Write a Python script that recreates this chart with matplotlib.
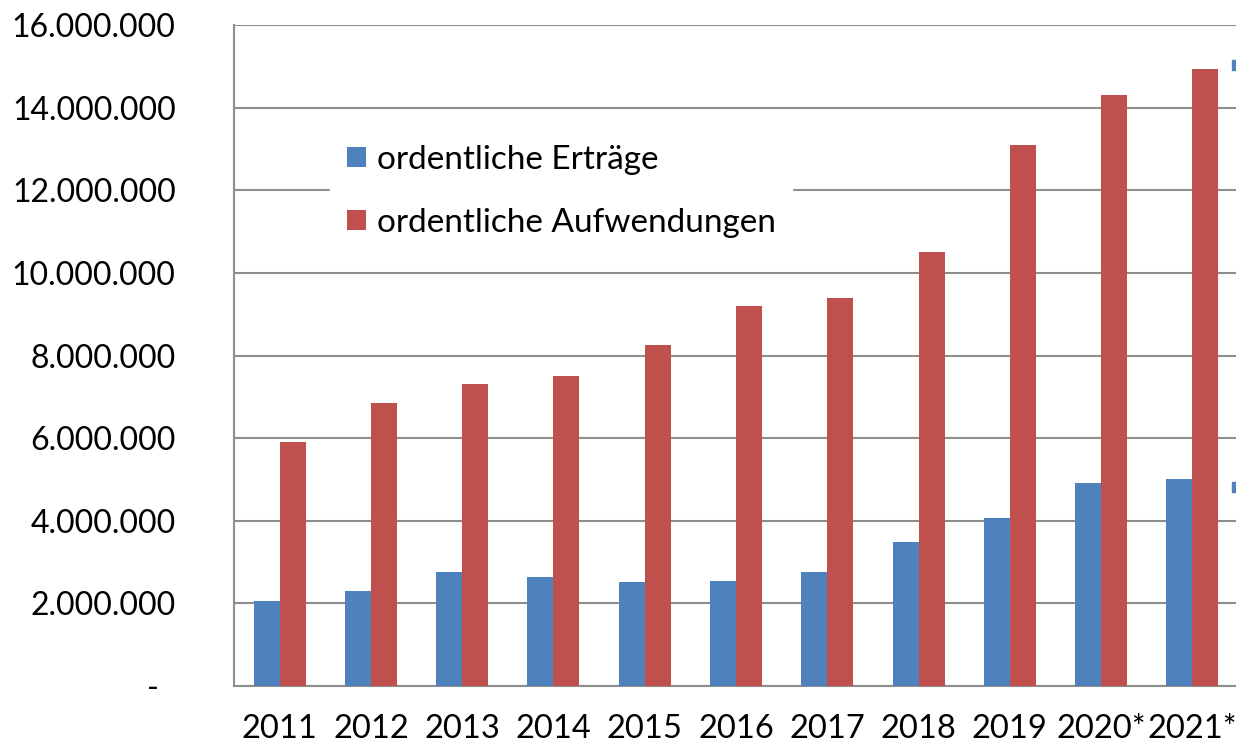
import matplotlib
matplotlib.use("Agg")
import matplotlib.pyplot as plt
import numpy as np
from matplotlib.patches import Rectangle

years = ["2011", "2012", "2013", "2014", "2015", "2016", "2017", "2018", "2019", "2020*", "2021*"]
ertraege = [2060000, 2300000, 2760000, 2640000, 2520000, 2540000, 2760000, 3490000, 4070000, 4920000, 5010000]
aufwendungen = [5910000, 6850000, 7310000, 7510000, 8260000, 9200000, 9390000, 10510000, 13100000, 14310000, 14940000]
series_names = ["ordentliche Erträge", "ordentliche Aufwendungen"]
yticks = [0, 2000000, 4000000, 6000000, 8000000, 10000000, 12000000, 14000000, 16000000]

blue = "#4F81BD"
red = "#C0504D"
grid_c = "#8E8E8E"

plt.rcParams['font.family'] = ['Lato', 'DejaVu Sans']

fig = plt.figure(figsize=(12.36, 7.45), dpi=100)
ax = fig.add_axes([234/1236, 1-686/745, 1004/1236, (686-25)/745])

x = np.arange(len(years))
w = 0.285
ax.bar(x - w/2, ertraege, width=w, color=blue, label=series_names[0], zorder=3)
ax.bar(x + w/2, aufwendungen, width=w, color=red, label=series_names[1], zorder=3)

ax.set_xlim(-0.5, len(years) - 0.5)
ax.set_ylim(0, 16000000)
ax.set_yticks(yticks)

def fmt(v):
    if v == 0:
        return "-  "
    return f"{int(v):,}".replace(",", ".")

ax.set_yticklabels([fmt(v) for v in yticks])
ax.set_xticks(x)
ax.set_xticklabels(years)
ax.tick_params(axis='y', length=0, pad=42, labelsize=23, colors='black')
ax.tick_params(axis='x', length=0, pad=20, labelsize=23.5, colors='black')

ax.grid(axis='y', color=grid_c, linewidth=1.5, zorder=1)
ax.set_axisbelow(True)
for s in ['top', 'right']:
    ax.spines[s].set_visible(False)
ax.spines['left'].set_color(grid_c)
ax.spines['left'].set_linewidth(1.5)
ax.spines['bottom'].set_color(grid_c)
ax.spines['bottom'].set_linewidth(1.5)

leg = ax.legend(loc='upper left', bbox_to_anchor=((330-234)/1004, (686-128)/661),
                frameon=True, fancybox=False, framealpha=1.0, edgecolor='white',
                fontsize=24, handlelength=0.57, handleheight=0.57, handletextpad=0.33,
                labelspacing=1.0, borderpad=0.5, borderaxespad=0)
leg.set_zorder(5)

# small cut-off blue markers at the right edge of the image
fig.patches.append(Rectangle((1232/1236, 1-70/745), 6/1236, 10/745, transform=fig.transFigure, color=blue))
fig.patches.append(Rectangle((1232/1236, 1-492/745), 6/1236, 10/745, transform=fig.transFigure, color=blue))

fig.savefig("out.png", dpi=100)
